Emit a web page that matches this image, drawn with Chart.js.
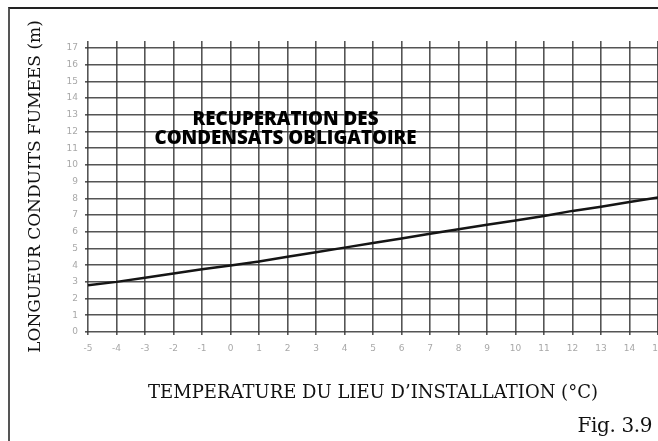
<!DOCTYPE html>
<html>
<head>
<meta charset="utf-8">
<title>Fig. 3.9</title>
<script src="https://cdn.jsdelivr.net/npm/chart.js@4.4.1/dist/chart.umd.min.js"></script>
<style>
  html, body { margin: 0; padding: 0; background: #fff; overflow: hidden; }
  #wrap { position: relative; width: 658px; height: 441px; overflow: hidden; }
  #frame {
    position: absolute; left: 8px; top: 7px; width: 700px; height: 500px;
    border-top: 2px solid #222; border-left: 2px solid #555;
  }
  #fig {
    position: absolute; right: 6px; top: 413px;
    font: 20px "DejaVu Serif"; color: #111; letter-spacing: -0.4px;
  }
  canvas { position: absolute; left: 0; top: 0; }
</style>
</head>
<body>
<div id="wrap">
  <div id="frame"></div>
  <canvas id="chart" width="700" height="441"></canvas>
  <div id="fig">Fig. 3.9</div>
</div>
<script>
// temperature (°C) -> minimum flue length (m)
const temperatures = [-5, -4, -3, -2, -1, 0, 1, 2, 3, 4, 5, 6, 7, 8, 9, 10, 11, 12, 13, 14, 15];
const flueLengths = [2.8, 3.0, 3.25, 3.5, 3.75, 3.98, 4.22, 4.5, 4.77, 5.05, 5.33, 5.6, 5.88, 6.15, 6.42, 6.68, 6.95, 7.25, 7.5, 7.78, 8.05];

const xTitle = 'TEMPERATURE DU LIEU D\u2019INSTALLATION (\u00B0C)';
const yTitle = 'LONGUEUR CONDUITS FUMEES (m)';
const noteLines = ['RECUPERATION DES', 'CONDENSATS OBLIGATOIRE'];
const noteX = 1.93;
const noteY = [12.74, 11.55];

const gridColor = 'rgba(55,55,55,0.85)';

const notePlugin = {
  id: 'note',
  afterDatasetsDraw(chart) {
    const { ctx, scales: { x, y } } = chart;
    ctx.save();
    ctx.font = '800 18.8px "Open Sans"';
    ctx.fillStyle = '#000';
    ctx.textAlign = 'center';
    ctx.textBaseline = 'middle';
    noteLines.forEach((line, i) => {
      ctx.fillText(line, x.getPixelForValue(noteX), y.getPixelForValue(noteY[i]));
    });
    ctx.restore();
  }
};

new Chart(document.getElementById('chart'), {
  type: 'line',
  data: {
    datasets: [{
      data: temperatures.map((t, i) => ({ x: t, y: flueLengths[i] })),
      borderColor: '#151515',
      borderWidth: 2.5,
      pointRadius: 0,
      tension: 0
    }]
  },
  options: {
    responsive: false,
    animation: false,
    layout: { padding: { left: 0, top: 41, right: 42, bottom: 0 } },
    plugins: {
      legend: { display: false },
      tooltip: { enabled: false }
    },
    scales: {
      x: {
        type: 'linear',
        min: -5,
        max: 15,
        afterFit(scale) { scale.height = 109; },
        border: { display: false },
        grid: { color: gridColor, lineWidth: 1.6, tickLength: 3, drawTicks: true },
        ticks: {
          stepSize: 1,
          padding: 8,
          color: '#a8a8a8',
          font: { family: 'DejaVu Sans', size: 9 },
          maxRotation: 0,
          autoSkip: false
        },
        title: {
          display: true,
          text: xTitle,
          color: '#111',
          font: { family: 'DejaVu Serif', size: 18 },
          padding: { top: 0, bottom: 37 }
        }
      },
      y: {
        min: 0,
        max: 17.42,
        afterFit(scale) { scale.width = 88; },
        border: { display: false },
        grid: { color: gridColor, lineWidth: 1.6, tickLength: 3, drawTicks: true },
        ticks: {
          stepSize: 1,
          includeBounds: false,
          padding: 7,
          color: '#a8a8a8',
          font: { family: 'DejaVu Sans', size: 9 }
        },
        title: {
          display: true,
          text: yTitle,
          color: '#111',
          font: { family: 'DejaVu Serif', size: 17 },
          padding: { top: 25, bottom: 0 }
        }
      }
    }
  },
  plugins: [notePlugin]
});
</script>
</body>
</html>
